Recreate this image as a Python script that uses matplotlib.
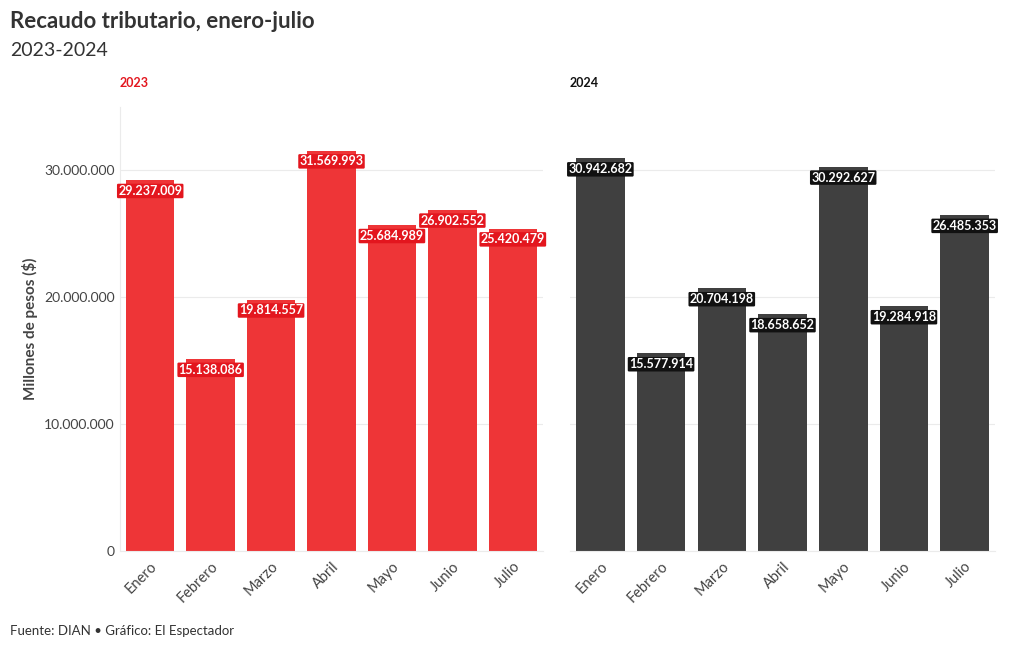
import matplotlib
matplotlib.use("Agg")
import matplotlib.pyplot as plt
from matplotlib.ticker import FuncFormatter

plt.rcParams['font.family'] = ['Lato', 'DejaVu Sans']

months = ["Enero", "Febrero", "Marzo", "Abril", "Mayo", "Junio", "Julio"]
values_2023 = [29237009, 15138086, 19814557, 31569993, 25684989, 26902552, 25420479]
values_2024 = [30942682, 15577914, 20704198, 18658652, 30292627, 19284918, 26485353]
yticks = [0, 10000000, 20000000, 30000000]

def fmt(v):
    return f"{int(v):,}".replace(",", ".")

fig = plt.figure(figsize=(10.2, 6.5), dpi=100)
ax1 = fig.add_axes([120/1020, 1-551/650, 423/1020, 444/650])
ax2 = fig.add_axes([570/1020, 1-551/650, 425/1020, 444/650], sharey=ax1)

panels = [(ax1, values_2023, "2023", "#EE3537", "#E3161E", "#E3161E"),
          (ax2, values_2024, "2024", "#404040", "#111111", "#111111")]

for ax, vals, title, barc, labbg, titlec in panels:
    x = range(len(months))
    ax.bar(x, vals, width=0.8, color=barc, zorder=2)
    for xi, v in zip(x, vals):
        ax.annotate(fmt(v), (xi, v), xytext=(0, -3.5), textcoords="offset points",
                    ha="center", va="top", color="white", fontsize=9, fontweight="bold",
                    bbox=dict(boxstyle="round,pad=0.1", fc=labbg, ec="none"), zorder=3)
    ax.set_xlim(-0.5, len(months) - 0.5)
    ax.set_ylim(0, 35000000)
    ax.set_yticks(yticks)
    ax.yaxis.set_major_formatter(FuncFormatter(lambda v, p: fmt(v)))
    ax.grid(axis="y", color="#EBEBEB", linewidth=0.8, zorder=0)
    ax.set_xticks(list(x))
    ax.set_xticklabels(months, rotation=45, ha="right", rotation_mode="anchor",
                       fontsize=10.5, color="#444444")
    for s in ["top", "right"]:
        ax.spines[s].set_visible(False)
    ax.spines["bottom"].set_color("#EBEBEB")
    ax.spines["left"].set_color("#EBEBEB")
    ax.tick_params(axis="both", length=0, pad=4, labelcolor="#444444")
    ax.tick_params(axis="x", labelsize=10.5, pad=6)
    ax.tick_params(axis="y", labelsize=10)
    ax.text(0.0, 1.04, title, transform=ax.transAxes, color=titlec, fontsize=9,
            fontweight="bold", ha="left", va="bottom")

ax2.spines["left"].set_visible(False)
ax2.tick_params(axis="y", labelleft=False)
ax1.set_ylabel("Millones de pesos ($)", fontsize=11, fontweight="bold", color="#444444", labelpad=4)

fig.text(10/1020, 1-22/650, "Recaudo tributario, enero-julio", fontsize=16, fontweight="bold",
         color="#333333", ha="left", va="center")
fig.text(10/1020, 1-50/650, "2023-2024", fontsize=14, color="#333333", ha="left", va="center")
fig.text(10/1020, 1-631/650, "Fuente: DIAN • Gráfico: El Espectador", fontsize=9.5,
         color="#333333", ha="left", va="center")

fig.savefig("out.png", dpi=100)
